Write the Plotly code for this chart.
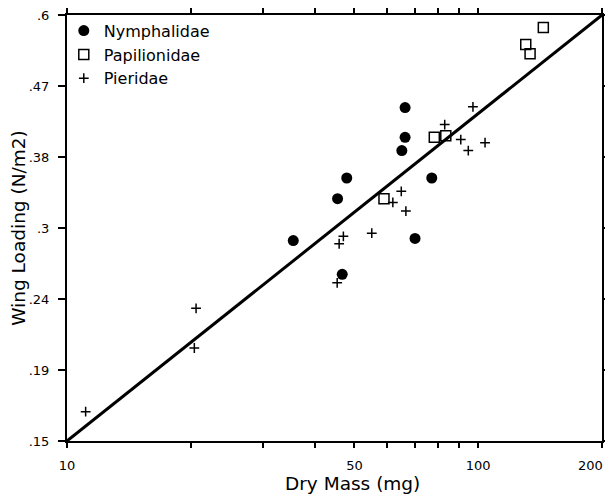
import plotly.graph_objects as go

# Data (dry mass in mg, wing loading in N/m2)
nymph_x = [66.4, 66.4, 65.2, 47.9, 77.1, 45.5, 35.5, 70.2, 46.7]
nymph_y = [0.444, 0.403, 0.386, 0.353, 0.353, 0.330, 0.288, 0.290, 0.258]

papil_x = [59.0, 78.2, 83.4, 144.0, 130.5, 133.7]
papil_y = [0.330, 0.403, 0.405, 0.576, 0.545, 0.529]

pier_x = [11.1, 20.6, 20.4, 45.4, 45.9, 47.0, 55.1, 62.0, 65.0, 66.7, 82.9, 90.7, 94.6, 97.1, 103.9]
pier_y = [0.165, 0.231, 0.203, 0.251, 0.285, 0.292, 0.295, 0.326, 0.338, 0.317, 0.420, 0.400, 0.386, 0.445, 0.396]

# regression line end points
fit_x = [10, 200]
fit_y = [0.15, 0.6]

x_tickvals = [10, 20, 30, 40, 50, 60, 70, 80, 90, 100, 200]
x_ticktext = ["10", "", "", "", "50", "", "", "", "", "100", ""]
x_last_label = "200"   # drawn flush with the right edge so it is not clipped
y_tickvals = [0.15, 0.189, 0.238, 0.3, 0.378, 0.476, 0.6]
y_ticktext = [".15", ".19", ".24", ".3", ".38", ".47", ".6"]

x_title = "Dry Mass (mg)"
y_title = "Wing Loading (N/m2)"

FONT = "DejaVu Sans, Liberation Sans, Arial, sans-serif"

fig = go.Figure()
fig.add_trace(go.Scatter(x=fit_x, y=fit_y, mode="lines", line=dict(color="black", width=3),
                         showlegend=False, hoverinfo="skip"))
fig.add_trace(go.Scatter(x=nymph_x, y=nymph_y, mode="markers", name="Nymphalidae",
                         marker=dict(symbol="circle", size=11, color="black", line=dict(width=0))))
fig.add_trace(go.Scatter(x=papil_x, y=papil_y, mode="markers", name="Papilionidae",
                         marker=dict(symbol="square-open", size=10, color="black", line=dict(width=1.5))))
fig.add_trace(go.Scatter(x=pier_x, y=pier_y, mode="markers", name="Pieridae",
                         marker=dict(symbol="cross-thin", size=7, color="black", line=dict(width=1.5, color="black"))))

# the page body adds an 8px offset; size and margins compensate for it
fig.update_layout(
    width=605, height=490,
    margin=dict(l=59, r=11, t=7, b=57, autoexpand=False),
    paper_bgcolor="white", plot_bgcolor="white",
    font=dict(family=FONT, color="black"),
    showlegend=True,
    legend=dict(x=-0.006, y=1.003, xanchor="left", yanchor="top", bgcolor="rgba(0,0,0,0)",
                font=dict(size=16, family=FONT), itemwidth=30, tracegroupgap=0),
    xaxis=dict(type="log", range=[0.99999, 2.30104], showgrid=False, zeroline=False,
               showline=True, linecolor="black", linewidth=2, mirror="ticks",
               ticks="outside", ticklen=5, tickwidth=1.5, tickcolor="black",
               tickvals=x_tickvals, ticktext=x_ticktext, tickfont=dict(size=13),
               ticklabelstandoff=6, ticklabeloverflow="allow"),
    yaxis=dict(type="log", range=[-0.82392, -0.22184], showgrid=False, zeroline=False,
               showline=True, linecolor="black", linewidth=2, mirror="ticks",
               ticks="outside", ticklen=7, tickwidth=1.5, tickcolor="black",
               tickvals=y_tickvals, ticktext=y_ticktext, tickfont=dict(size=13),
               ticklabelstandoff=6, ticklabeloverflow="allow",
               title=dict(text=y_title, font=dict(size=18.5), standoff=8)),
    annotations=[
        dict(text=x_title, xref="paper", yref="paper", x=0.533, y=0,
             xanchor="center", yanchor="middle", yshift=-42, showarrow=False,
             font=dict(size=18.5, family=FONT)),
        dict(text=x_last_label, xref="paper", yref="paper", x=1, y=0,
             xanchor="right", yanchor="middle", xshift=2, yshift=-24, showarrow=False,
             borderpad=0, font=dict(size=13, family=FONT)),
    ],
)

fig.write_html("out.html")
